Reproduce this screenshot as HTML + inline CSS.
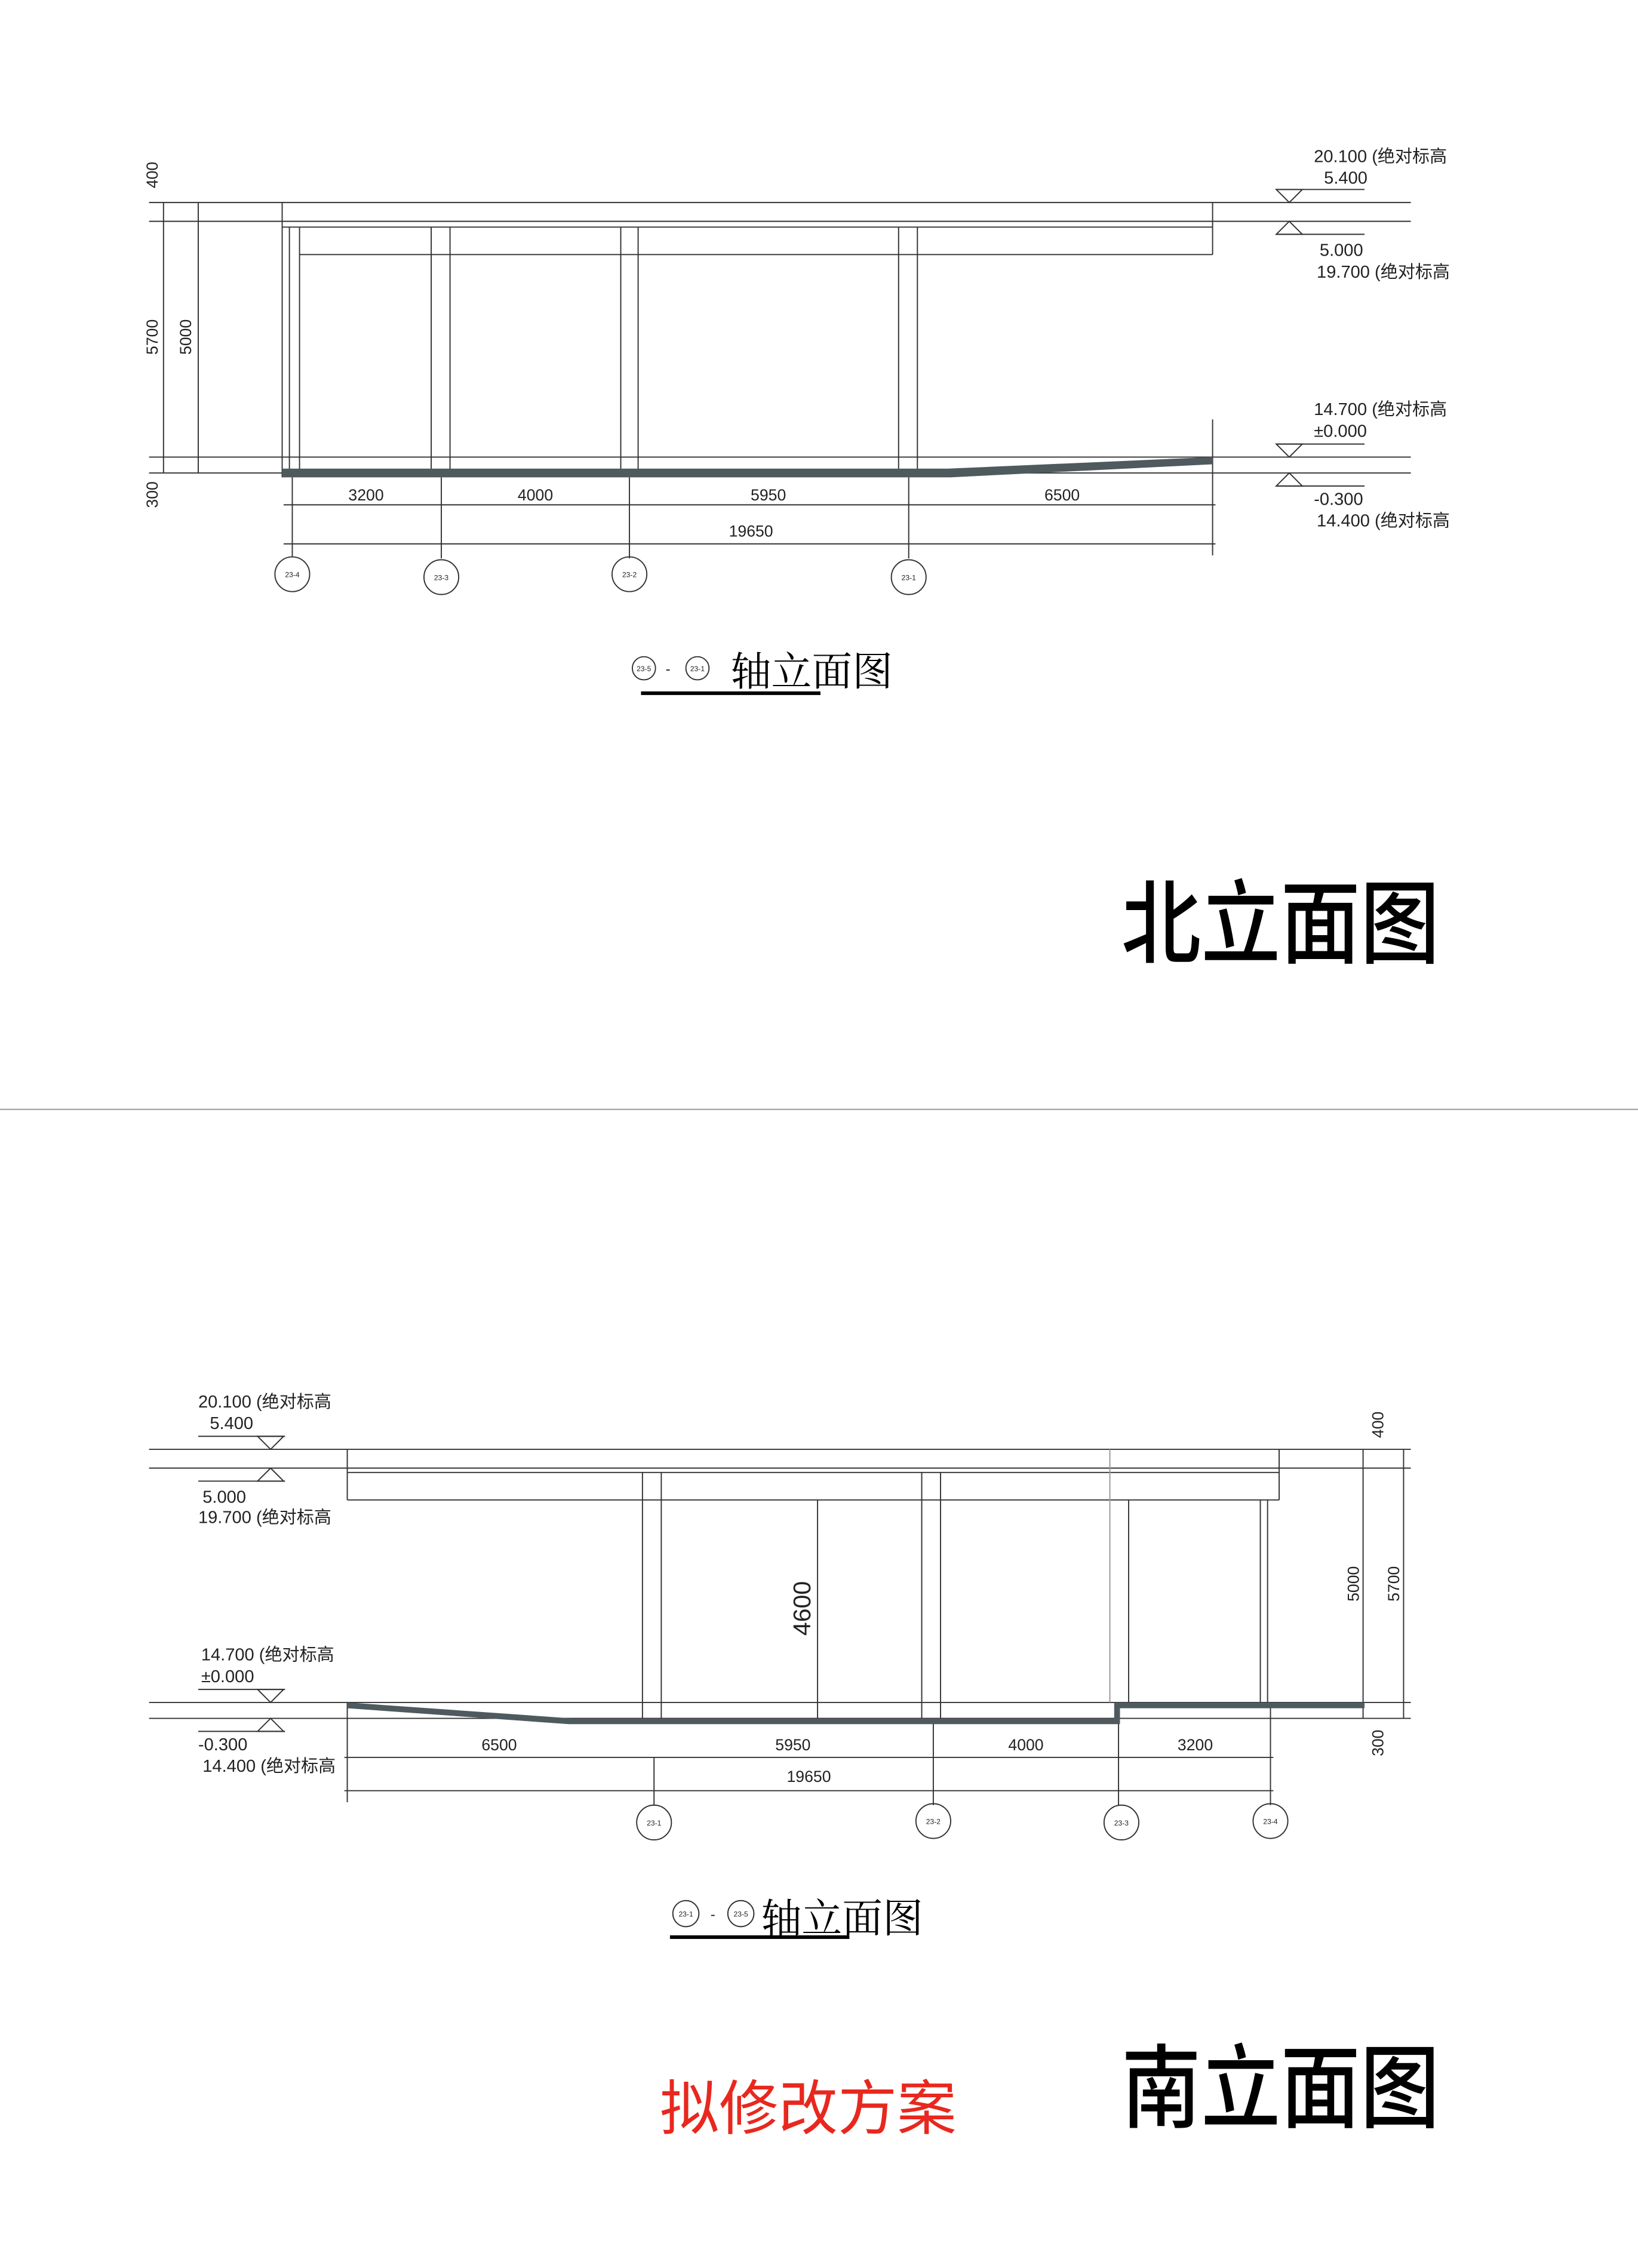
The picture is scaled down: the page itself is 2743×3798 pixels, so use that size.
<!DOCTYPE html>
<html><head><meta charset="utf-8"><style>
html,body{margin:0;padding:0;background:#fff;}
svg{display:block;}
text{font-family:"Liberation Sans","Noto Sans CJK SC",sans-serif;fill:#222;}
.s{font-family:"Liberation Sans Narrow","Liberation Sans","Noto Sans CJK SC",sans-serif;}
.t{font-family:"Noto Serif CJK SC","Liberation Serif",serif;fill:#000;}
.b{font-family:"Noto Sans CJK SC",sans-serif;fill:#000;}
</style></head><body>
<svg width="2743" height="3798" viewBox="0 0 1132 1568" preserveAspectRatio="none" xmlns="http://www.w3.org/2000/svg">
<g stroke="#333" stroke-width="0.8" fill="none">
<line x1="103" y1="140" x2="975" y2="140"/>
<line x1="103" y1="153" x2="975" y2="153"/>
<line x1="103" y1="316" x2="975" y2="316"/>
<line x1="103" y1="327" x2="975" y2="327"/>
<line x1="195" y1="140" x2="195" y2="330"/>
<line x1="838" y1="140" x2="838" y2="176"/>
<line x1="195" y1="157" x2="838" y2="157"/>
<line x1="207" y1="176" x2="838" y2="176"/>
<line x1="200" y1="157" x2="200" y2="327"/>
<line x1="207" y1="157" x2="207" y2="327"/>
<line x1="298" y1="157" x2="298" y2="327"/>
<line x1="311" y1="157" x2="311" y2="327"/>
<line x1="429" y1="157" x2="429" y2="327"/>
<line x1="441" y1="157" x2="441" y2="327"/>
<line x1="621" y1="157" x2="621" y2="327"/>
<line x1="634" y1="157" x2="634" y2="327"/>
<line x1="838" y1="290" x2="838" y2="384"/>
<line x1="113" y1="140" x2="113" y2="327"/>
<line x1="137" y1="140" x2="137" y2="327"/>
<line x1="196" y1="349" x2="840" y2="349"/>
<line x1="196" y1="376" x2="840" y2="376"/>
<line x1="202" y1="330" x2="202" y2="385"/>
<line x1="305" y1="330" x2="305" y2="386"/>
<line x1="435" y1="330" x2="435" y2="386"/>
<line x1="628" y1="330" x2="628" y2="386"/>
<ellipse cx="202" cy="397" rx="12" ry="12"/>
<ellipse cx="305" cy="399" rx="12" ry="12"/>
<ellipse cx="435" cy="397" rx="12" ry="12"/>
<ellipse cx="628" cy="399" rx="12" ry="12"/>
<polyline points="882,131 943,131"/><polygon points="882,131 900,131 891,140"/>
<polyline points="882,162 943,162"/><polygon points="882,162 900,162 891,153"/>
<polyline points="882,307 943,307"/><polygon points="882,307 900,307 891,316"/>
<polyline points="882,336 943,336"/><polygon points="882,336 900,336 891,327"/>
<line x1="103" y1="1002" x2="975" y2="1002"/>
<line x1="103" y1="1015" x2="975" y2="1015"/>
<line x1="103" y1="1177" x2="975" y2="1177"/>
<line x1="103" y1="1188" x2="975" y2="1188"/>
<line x1="240" y1="1002" x2="240" y2="1037"/>
<line x1="240" y1="1018" x2="884" y2="1018"/>
<line x1="240" y1="1037" x2="884" y2="1037"/>
<line x1="884" y1="1002" x2="884" y2="1037"/>
<line x1="767" y1="1002" x2="767" y2="1177" stroke="#999"/>
<line x1="444" y1="1018" x2="444" y2="1188"/>
<line x1="457" y1="1018" x2="457" y2="1188"/>
<line x1="637" y1="1018" x2="637" y2="1188"/>
<line x1="650" y1="1018" x2="650" y2="1188"/>
<line x1="780" y1="1037" x2="780" y2="1177"/>
<line x1="871" y1="1037" x2="871" y2="1177"/>
<line x1="876" y1="1037" x2="876" y2="1177"/>
<line x1="565" y1="1037" x2="565" y2="1188"/>
<line x1="942" y1="1002" x2="942" y2="1188"/>
<line x1="970" y1="1002" x2="970" y2="1188"/>
<line x1="240" y1="1177" x2="240" y2="1246"/>
<line x1="238" y1="1215" x2="880" y2="1215"/>
<line x1="238" y1="1238" x2="880" y2="1238"/>
<line x1="452" y1="1215" x2="452" y2="1248"/>
<line x1="645" y1="1190" x2="645" y2="1248"/>
<line x1="773" y1="1190" x2="773" y2="1248"/>
<line x1="878" y1="1180" x2="878" y2="1248"/>
<ellipse cx="452" cy="1260" rx="12" ry="12"/>
<ellipse cx="645" cy="1259" rx="12" ry="12"/>
<ellipse cx="775" cy="1260" rx="12" ry="12"/>
<ellipse cx="878" cy="1259" rx="12" ry="12"/>
<polyline points="137,993 197,993"/><polygon points="178,993 196,993 187,1002"/>
<polyline points="137,1024 197,1024"/><polygon points="178,1024 196,1024 187,1015"/>
<polyline points="137,1168 197,1168"/><polygon points="178,1168 196,1168 187,1177"/>
<polyline points="137,1197 197,1197"/><polygon points="178,1197 196,1197 187,1188"/>
<circle cx="445" cy="462" r="8"/><circle cx="482" cy="462" r="8"/>
<circle cx="474" cy="1323" r="9"/><circle cx="512" cy="1323" r="9"/>
</g>
<polygon points="195,324 655,324 838,316 838,321 657,330 195,330" fill="#4f5a5e"/>
<polygon points="240,1177 395,1188 770,1188 770,1177 943,1177 943,1181 774,1181 774,1192 393,1192 240,1181" fill="#4f5a5e"/>
<line x1="0" y1="767" x2="1132" y2="767" stroke="#aaa" stroke-width="1"/>
<rect x="443" y="478" width="124" height="2.5" fill="#000"/>
<rect x="463" y="1338" width="124" height="2.5" fill="#000"/>
<g class="s" font-size="11" fill="#333">
<text x="253" y="346" text-anchor="middle">3200</text>
<text x="370" y="346" text-anchor="middle">4000</text>
<text x="531" y="346" text-anchor="middle">5950</text>
<text x="734" y="346" text-anchor="middle">6500</text>
<text x="519" y="371" text-anchor="middle">19650</text>
<text transform="translate(109,121) rotate(-90)" text-anchor="middle">400</text>
<text transform="translate(109,233) rotate(-90)" text-anchor="middle">5700</text>
<text transform="translate(132,233) rotate(-90)" text-anchor="middle">5000</text>
<text transform="translate(109,342) rotate(-90)" text-anchor="middle">300</text>
</g>
<g class="s" font-size="12" fill="#333">
<text x="908" y="112">20.100 (绝对标高</text>
<text x="915" y="127">5.400</text>
<text x="912" y="177">5.000</text>
<text x="910" y="192">19.700 (绝对标高</text>
<text x="908" y="287">14.700 (绝对标高</text>
<text x="908" y="302">±0.000</text>
<text x="908" y="349">-0.300</text>
<text x="910" y="364">14.400 (绝对标高</text>
<text x="137" y="973">20.100 (绝对标高</text>
<text x="145" y="988">5.400</text>
<text x="140" y="1039">5.000</text>
<text x="137" y="1053">19.700 (绝对标高</text>
<text x="139" y="1148">14.700 (绝对标高</text>
<text x="139" y="1163">±0.000</text>
<text x="137" y="1210">-0.300</text>
<text x="140" y="1225">14.400 (绝对标高</text>
</g>
<g class="s" font-size="11" fill="#333">
<text x="345" y="1210" text-anchor="middle">6500</text>
<text x="548" y="1210" text-anchor="middle">5950</text>
<text x="709" y="1210" text-anchor="middle">4000</text>
<text x="826" y="1210" text-anchor="middle">3200</text>
<text x="559" y="1232" text-anchor="middle">19650</text>
<text transform="translate(956,985) rotate(-90)" text-anchor="middle">400</text>
<text transform="translate(939,1095) rotate(-90)" text-anchor="middle">5000</text>
<text transform="translate(967,1095) rotate(-90)" text-anchor="middle">5700</text>
<text transform="translate(956,1205) rotate(-90)" text-anchor="middle">300</text>
</g>
<text transform="translate(560,1112) rotate(-90)" text-anchor="middle" font-size="17" fill="#333">4600</text>
<g font-size="5" text-anchor="middle" fill="#333">
<text x="202" y="399">23-4</text><text x="305" y="401">23-3</text><text x="435" y="399">23-2</text><text x="628" y="401">23-1</text>
<text x="452" y="1262">23-1</text><text x="645" y="1261">23-2</text><text x="775" y="1262">23-3</text><text x="878" y="1261">23-4</text>
<text x="445" y="464">23-5</text><text x="482" y="464">23-1</text>
<text x="474" y="1325">23-1</text><text x="512" y="1325">23-5</text>
</g>
<text x="460" y="466" font-size="10" fill="#333">-</text>
<text x="491" y="1327" font-size="10" fill="#333">-</text>
<text class="t" x="505" y="474" font-size="28">轴立面图</text>
<text class="t" x="526" y="1336" font-size="28">轴立面图</text>
<text class="b" transform="translate(775,661) scale(1,1.15)" font-size="55" font-weight="500">北立面图</text>
<text class="b" transform="translate(775,1466) scale(1,1.15)" font-size="55" font-weight="500">南立面图</text>
<text class="b" x="456" y="1472" font-size="41" style="fill:#e8281e">拟修改方案</text>
</svg>
</body></html>
